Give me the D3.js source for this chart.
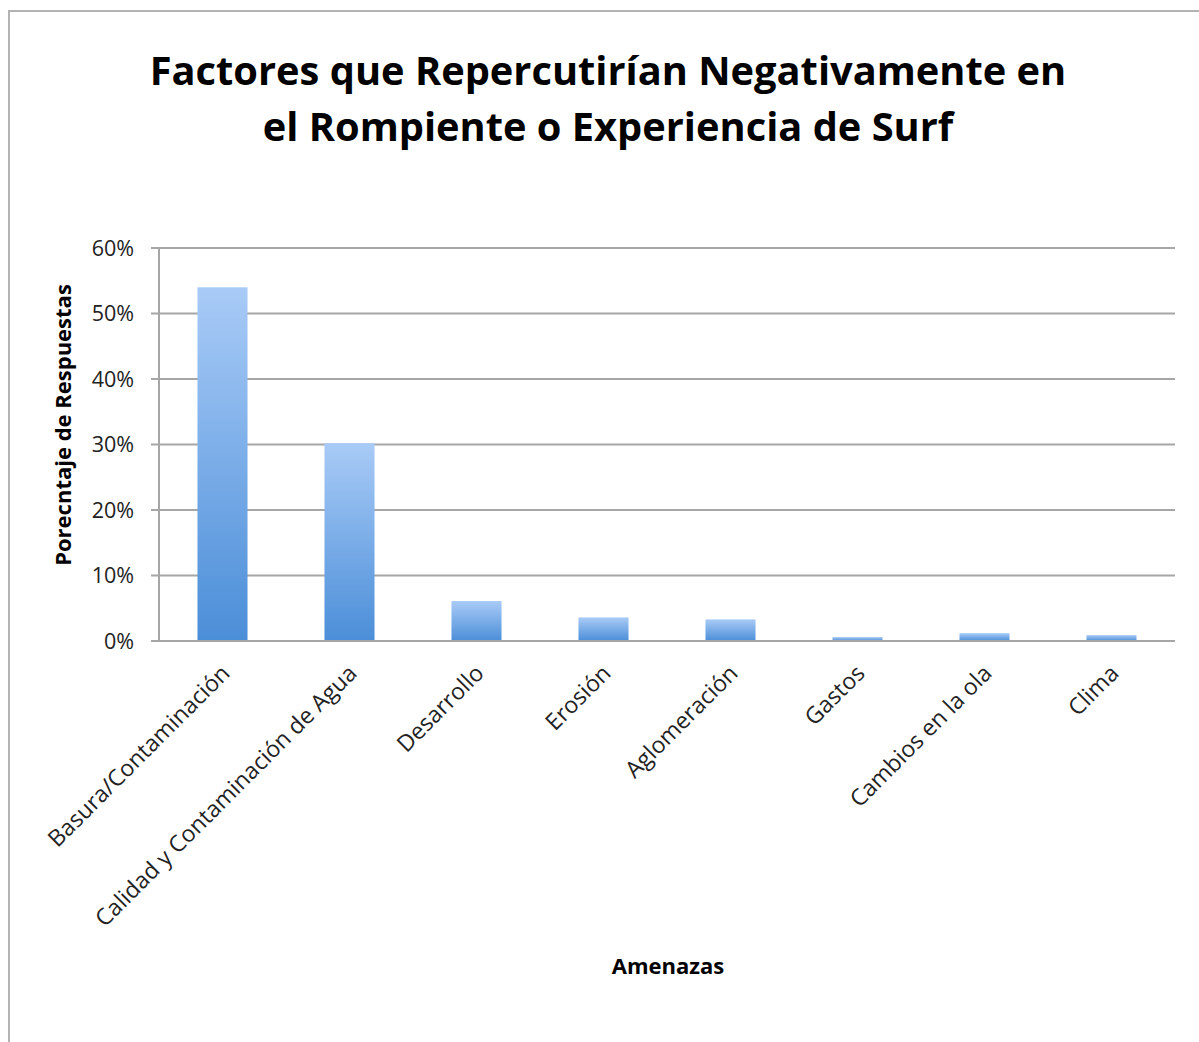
<!DOCTYPE html>
<html>
<head>
<meta charset="utf-8">
<script src="https://cdn.jsdelivr.net/npm/d3@7"></script>
<style>
  body { margin: 0; background: #fff; }
  svg { display: block; }
  text { font-family: "Open Sans", "Noto Sans", sans-serif; fill: #000; }
</style>
</head>
<body>
<div id="chart"></div>
<script>
// data
var categories = ["Basura/Contaminación", "Calidad y Contaminación de Agua", "Desarrollo",
                  "Erosión", "Aglomeración", "Gastos", "Cambios en la ola", "Clima"];
var values = [0.54, 0.302, 0.061, 0.036, 0.033, 0.006, 0.012, 0.009];
var yTicks = [0, 0.1, 0.2, 0.3, 0.4, 0.5, 0.6];
var titleLines = ["Factores que Repercutirían Negativamente en", "el Rompiente o Experiencia de Surf"];

var W = 1199, H = 1042;
var margin = {top: 248, right: 24, bottom: 401, left: 159};

var svg = d3.select("#chart")
  .append("svg")
    .attr("width", W)
    .attr("height", H);

// outer frame
svg.append("rect")
  .attr("x", 9).attr("y", 11)
  .attr("width", W + 20).attr("height", H + 20)
  .attr("fill", "none")
  .attr("stroke", "#b3b3b3")
  .attr("stroke-width", 2);

var defs = svg.append("defs");
var grad = defs.append("linearGradient")
  .attr("id", "barGrad")
  .attr("x1", 0).attr("y1", 0).attr("x2", 0).attr("y2", 1);
grad.append("stop").attr("offset", "0%").attr("stop-color", "#a9cbf7");
grad.append("stop").attr("offset", "100%").attr("stop-color", "#4b8ed8");

var x = d3.scaleBand()
  .domain(categories)
  .range([margin.left, W - margin.right])
  .paddingInner(0.606)
  .paddingOuter(0.303);

var y = d3.scaleLinear()
  .domain([0, 0.6])
  .range([H - margin.bottom, margin.top]);

// gridlines
svg.append("g")
  .selectAll("line")
  .data(yTicks)
  .enter()
  .append("line")
    .attr("x1", margin.left - 8)
    .attr("x2", W - margin.right)
    .attr("y1", d => y(d))
    .attr("y2", d => y(d))
    .attr("stroke", "#a6a6a6")
    .attr("stroke-width", 2);

// y axis line
svg.append("line")
  .attr("x1", margin.left).attr("x2", margin.left)
  .attr("y1", y(0.6)).attr("y2", y(0))
  .attr("stroke", "#a6a6a6")
  .attr("stroke-width", 2);

// y tick labels
svg.append("g")
  .selectAll("text")
  .data(yTicks)
  .enter()
  .append("text")
    .attr("x", 134)
    .attr("y", d => y(d))
    .attr("dy", "0.36em")
    .attr("text-anchor", "end")
    .style("font-size", "21.5px")
    .style("fill", "#222")
    .text(d3.format(".0%"));

// bars
svg.append("g")
  .selectAll("rect")
  .data(values)
  .enter()
  .append("rect")
    .attr("x", (d, i) => x(categories[i]))
    .attr("y", d => y(d))
    .attr("width", x.bandwidth())
    .attr("height", d => y(0) - y(d))
    .attr("fill", "url(#barGrad)");

// redraw baseline over bars
svg.append("line")
  .attr("x1", margin.left - 8).attr("x2", W - margin.right)
  .attr("y1", y(0)).attr("y2", y(0))
  .attr("stroke", "#a6a6a6")
  .attr("stroke-width", 2);

// x labels, rotated
svg.append("g")
  .selectAll("text")
  .data(categories)
  .enter()
  .append("text")
    .attr("transform", d => "translate(" + (x(d) + x.bandwidth() / 2 + 3) + "," + (y(0) + 28) + ") rotate(-45)")
    .attr("text-anchor", "end")
    .attr("dy", "0.35em")
    .style("font-size", "23px")
    .style("fill", "#222")
    .text(d => d);

// title
svg.append("g")
  .selectAll("text")
  .data(titleLines)
  .enter()
  .append("text")
    .attr("x", 608)
    .attr("y", (d, i) => 85 + i * 56)
    .attr("text-anchor", "middle")
    .style("font-size", "39.8px")
    .style("font-weight", "bold")
    .text(d => d);

// axis titles
svg.append("text")
  .attr("transform", "translate(71,425) rotate(-90)")
  .attr("text-anchor", "middle")
  .style("font-size", "22px")
  .style("font-weight", "bold")
  .text("Porecntaje de Respuestas");

svg.append("text")
  .attr("x", 668)
  .attr("y", 974)
  .attr("text-anchor", "middle")
  .style("font-size", "22px")
  .style("font-weight", "bold")
  .text("Amenazas");
</script>
</body>
</html>
